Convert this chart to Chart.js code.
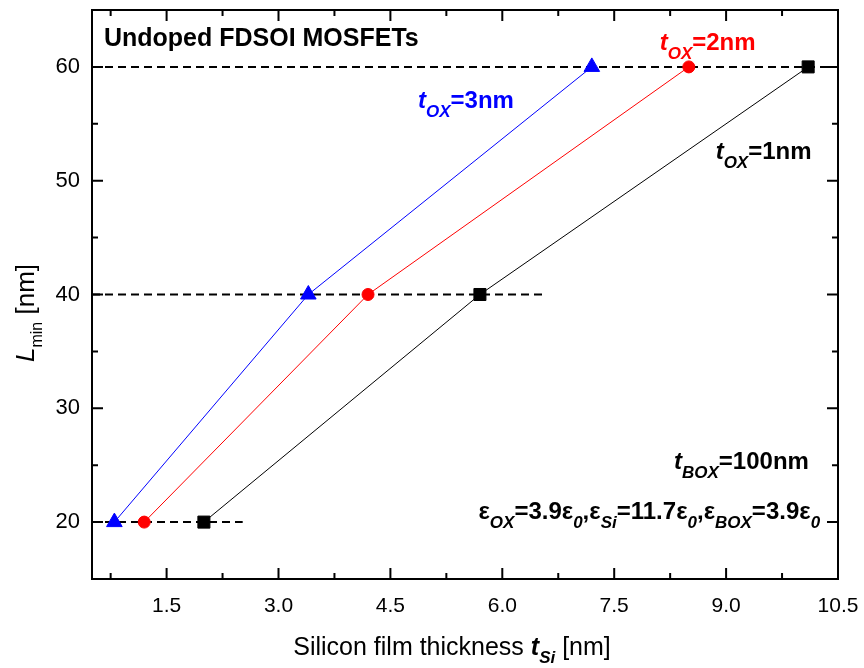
<!DOCTYPE html>
<html>
<head>
<meta charset="utf-8">
<script src="https://cdn.jsdelivr.net/npm/chart.js@4/dist/chart.umd.min.js"></script>
<style>
  html, body { margin: 0; padding: 0; background: #fff; }
</style>
</head>
<body>
<canvas id="chart" width="864" height="668"></canvas>
<script>
// L_min values shared by all three series
const lmin = [20, 40, 60];
// silicon film thickness t_Si for each oxide thickness
const tsiOx3 = [0.8, 3.4, 7.2];
const tsiOx2 = [1.2, 4.2, 8.5];
const tsiOx1 = [2.0, 5.7, 10.1];

// dashed reference lines: level and where they stop
const refLevels = [20, 40, 60];
const refStart = 0.5;
const refEnds = [2.52, 6.55, 10.5];

const xTickValues = [1.5, 3.0, 4.5, 6.0, 7.5, 9.0, 10.5];
const yTickValues = [20, 30, 40, 50, 60];

const FONT = '"Liberation Sans", Arial, Helvetica, sans-serif';
const f = (style, size) => `${style} ${size}px ${FONT}`;

const toPoints = (xs) => xs.map((x, i) => ({ x, y: lmin[i] }));

// draw a run of text pieces (for subscripts)
function drawRich(ctx, parts, x, y, align) {
  let w = 0;
  parts.forEach((p) => {
    ctx.font = p.font;
    p.w = ctx.measureText(p.text).width;
    w += p.w;
  });
  let cx = align === "center" ? x - w / 2 : align === "right" ? x - w : x;
  ctx.textAlign = "left";
  ctx.textBaseline = "alphabetic";
  parts.forEach((p) => {
    ctx.font = p.font;
    ctx.fillText(p.text, cx, y + (p.dy || 0));
    cx += p.w;
  });
}

const sub = (text) => ({ text, font: f("italic bold", 17), dy: 9 });
const main = (text) => ({ text, font: f("bold", 24) });
const tox = (n) => [{ text: "t", font: f("italic bold", 24) }, sub("OX"), main(`=${n}nm`)];

const notes = [
  { x: 0.66, y: 61.85, color: "#000", parts: [{ text: "Undoped FDSOI MOSFETs", font: f("bold", 25) }] },
  { x: 4.87, y: 56.35, color: "#0000ff", parts: tox("3") },
  { x: 8.11, y: 61.5, color: "#ff0000", parts: tox("2") },
  { x: 8.86, y: 51.9, color: "#000", parts: tox("1") },
  {
    x: 10.11, y: 24.7, color: "#000", align: "right",
    parts: [{ text: "t", font: f("italic bold", 24) }, sub("BOX"), main("=100nm")],
  },
  {
    x: 10.26, y: 20.25, color: "#000", align: "right",
    parts: [
      main("\u03b5"), sub("OX"), main("=3.9\u03b5"), sub("0"),
      main(",\u03b5"), sub("Si"), main("=11.7\u03b5"), sub("0"),
      main(",\u03b5"), sub("BOX"), main("=3.9\u03b5"), sub("0"),
    ],
  },
];

const framePlugin = {
  id: "frame",
  afterDraw(chart) {
    const ctx = chart.ctx;
    const { left, right, top, bottom } = chart.chartArea;
    const xs = chart.scales.x;
    const ys = chart.scales.y;
    ctx.save();
    ctx.strokeStyle = "#000";
    ctx.lineWidth = 2;
    ctx.strokeRect(left, top, right - left, bottom - top);

    // inward ticks on all four sides
    const major = 11;
    const minor = 6;
    const xStep = xTickValues[1] - xTickValues[0];
    const yStep = yTickValues[1] - yTickValues[0];
    ctx.beginPath();
    xTickValues.forEach((v) => {
      [[v, major], [v - xStep / 2, minor]].forEach(([val, len]) => {
        if (val <= xs.min || val >= xs.max) return;
        const px = xs.getPixelForValue(val);
        ctx.moveTo(px, bottom);
        ctx.lineTo(px, bottom - len);
        ctx.moveTo(px, top);
        ctx.lineTo(px, top + len);
      });
    });
    yTickValues.forEach((v) => {
      [[v, major], [v - yStep / 2, minor], [v + yStep / 2, minor]].forEach(([val, len]) => {
        if (val <= ys.min || val >= ys.max) return;
        const py = ys.getPixelForValue(val);
        ctx.moveTo(left, py);
        ctx.lineTo(left + len, py);
        ctx.moveTo(right, py);
        ctx.lineTo(right - len, py);
      });
    });
    ctx.stroke();

    // annotations
    notes.forEach((n) => {
      ctx.fillStyle = n.color;
      drawRich(ctx, n.parts, xs.getPixelForValue(n.x), ys.getPixelForValue(n.y), n.align || "left");
    });

    // axis titles
    ctx.fillStyle = "#000";
    drawRich(
      ctx,
      [
        { text: "Silicon film thickness ", font: f("normal", 25) },
        { text: "t", font: f("italic bold", 25) },
        { text: "Si", font: f("italic bold", 17), dy: 8 },
        { text: " [nm]", font: f("normal", 25) },
      ],
      452, 655, "center"
    );
    ctx.translate(34, 313);
    ctx.rotate(-Math.PI / 2);
    drawRich(
      ctx,
      [
        { text: "L", font: f("italic", 26) },
        { text: "min", font: f("normal", 16), dy: 8 },
        { text: " [nm]", font: f("normal", 26) },
      ],
      0, 0, "center"
    );
    ctx.restore();
  },
};

const refData = refLevels.map((lv, i) => [
  { x: refStart, y: lv },
  { x: refEnds[i], y: lv },
]);

const datasets = [
  {
    data: toPoints(tsiOx3),
    borderColor: "#0000ff",
    backgroundColor: "#0000ff",
    pointStyle: "triangle",
    pointRadius: 9,
    order: 1,
  },
  {
    data: toPoints(tsiOx2),
    borderColor: "#ff0000",
    backgroundColor: "#ff0000",
    pointStyle: "circle",
    pointRadius: 6,
    order: 1,
  },
  {
    data: toPoints(tsiOx1),
    borderColor: "#000",
    backgroundColor: "#000",
    pointStyle: "rect",
    pointRadius: 8.5,
    order: 1,
  },
].map((d) => ({ ...d, showLine: true, borderWidth: 1, pointBorderWidth: 1 }));

refData.forEach((pts) => {
  datasets.push({
    data: pts,
    showLine: true,
    borderColor: "#000",
    borderWidth: 2,
    borderDash: [8, 5],
    pointRadius: 0,
    order: 10,
  });
});

new Chart(document.getElementById("chart").getContext("2d"), {
  type: "scatter",
  data: { datasets },
  options: {
    responsive: false,
    animation: false,
    clip: false,
    layout: { padding: { top: 7, right: 26, left: 0, bottom: 0 } },
    plugins: { legend: { display: false }, tooltip: { enabled: false } },
    scales: {
      x: {
        type: "linear",
        min: 0.5,
        max: 10.5,
        grid: { display: false, drawTicks: false },
        border: { display: false },
        afterBuildTicks: (s) => { s.ticks = xTickValues.map((v) => ({ value: v })); },
        afterFit: (s) => {
          s.height = 89;
          s.paddingLeft = 0;
          s.paddingRight = 0;
        },
        ticks: {
          padding: 15,
          color: "#000",
          font: { family: FONT, size: 21 },
          maxRotation: 0,
          callback: (v) => Number(v).toFixed(1),
        },
      },
      y: {
        type: "linear",
        min: 15,
        max: 65,
        grid: { display: false, drawTicks: false },
        border: { display: false },
        afterBuildTicks: (s) => { s.ticks = yTickValues.map((v) => ({ value: v })); },
        afterFit: (s) => {
          s.width = 92;
          s.paddingTop = 0;
          s.paddingBottom = 0;
        },
        ticks: {
          padding: 12,
          color: "#000",
          font: { family: FONT, size: 22 },
          callback: (v) => String(v),
        },
      },
    },
  },
  plugins: [framePlugin],
});
</script>
</body>
</html>
